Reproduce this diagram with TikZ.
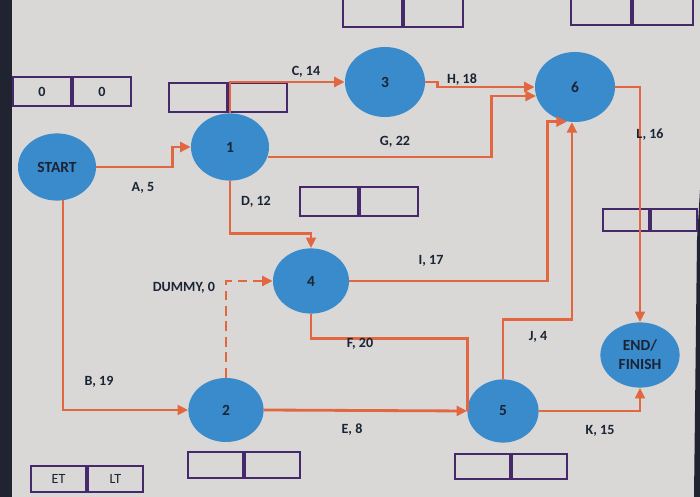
\documentclass[tikz,border=0pt]{standalone}
\usepackage{fontspec}
\setmainfont{Carlito}
\usepackage{tikz}
\usetikzlibrary{shapes.geometric,arrows.meta}
\definecolor{paper}{HTML}{DAD8D6}
\definecolor{eventblue}{HTML}{3A8BCB}
\definecolor{activity}{HTML}{E2663F}
\definecolor{boxline}{HTML}{45296A}
\definecolor{ink}{HTML}{1A2434}
\definecolor{desk}{HTML}{1F2430}
% two-cell time box: name, x, y of the divider, cell width, cell height, left, right
\newcommand{\timebox}[7]{%
	\node[cell,minimum width=#4*0.025cm,minimum height=#5*0.025cm,anchor=east] (#1L) at (#2,#3) {#6};
	\node[cell,minimum width=#4*0.025cm,minimum height=#5*0.025cm,anchor=west] (#1R) at (#2,#3) {#7};}

\begin{document}
\begin{tikzpicture}[x=0.025cm,y=-0.025cm,
	event/.style={ellipse,fill=eventblue,minimum width=1.95cm,minimum height=1.68cm,inner sep=0pt,
		font=\bfseries\fontsize{11}{13.5}\selectfont,text=ink,align=center},
	act/.style={draw=activity,line width=2pt,-{Triangle[length=7.5pt,width=7pt]}},
	cell/.style={draw=boxline,line width=1.4pt,inner sep=0pt,font=\bfseries\fontsize{10}{12}\selectfont,text=ink},
	lbl/.style={font=\bfseries\fontsize{10}{12}\selectfont,text=ink}]
	\useasboundingbox (0,0) rectangle (700,497);
	\fill[paper] (0,0) rectangle (700,497);
	\fill[desk] (0,0) rectangle (12,497);
	\fill[desk] (700,190) -- (697,240) -- (694,497) -- (700,497) -- cycle;
	% time boxes
	\timebox{bz}{72}{91.5}{58}{29}{0}{0}
	\timebox{ba}{228}{97.5}{58}{29}{}{}
	\timebox{bc}{403}{11}{59}{32}{}{}
	\timebox{bf}{632}{10}{60}{30}{}{}
	\timebox{bd}{359}{201.5}{58}{29}{}{}
	\timebox{be}{650}{220}{46}{22}{}{}
	\timebox{bb}{244}{465}{55}{26}{}{}
	\timebox{bg}{511}{466.5}{55}{25}{}{}
	\timebox{bk}{87}{479}{55}{26}{\mdseries ET}{\mdseries LT}
	% events
	\node[event] (start) at (57,167) {START};
	\node[event] (n1) at (230,147) {1};
	\node[event,minimum width=2cm,minimum height=1.75cm] (n3) at (385,82) {3};
	\node[event,minimum width=2cm,minimum height=1.75cm] (n6) at (575,87) {6};
	\node[event,minimum width=1.9cm,minimum height=1.63cm] (n4) at (311,281) {4};
	\node[event,minimum width=1.88cm,minimum height=1.6cm] (n2) at (226,410) {2};
	\node[event,minimum width=1.78cm,minimum height=1.58cm] (n5) at (503,411) {5};
	\node[event,minimum width=1.98cm,minimum height=1.63cm] (fin) at (640,355) {END/\\FINISH};
	% activities
	\draw[act] (start.east) -- ++(76,0) |- (n1.west);
	\draw[act] (start.-80) |- (n2.west);
	\draw[act] (n1.north) |- (n3.west);
	\draw[act] (n1.south) -- ++(0,53) -| (n4.north);
	\draw[act] (n1.-15) -- ++(224,0) |- (n6.193);
	\draw[act] (n3.east) -- ++(12,0) |- (n6.west);
	\draw[act,dashed,dash pattern=on 7pt off 4pt] (n2.north) |- (n4.west);
	\draw[act] (n2.east) -- (n5.west);
	\draw[act,-] (n4.south) -- ++(0,25) -| (n5.west);
	\draw[act] (n4.east) -- ++(198,0) |- (n6.257);
	\draw[act] (n5.north) -- ++(0,-60) -| (n6.265);
	\draw[act] (n5.east) -| (fin.south);
	\draw[act] (n6.east) -| (fin.north);
	% activity labels
	\node[lbl] (la) at (143,188) {A, 5};
	\node[lbl] (lb) at (99,382) {B, 19};
	\node[lbl] (lc) at (306,72) {C, 14};
	\node[lbl] (ld) at (256,202) {D, 12};
	\node[lbl] (le) at (352,430) {E, 8};
	\node[lbl] (lf) at (360,344) {F, 20};
	\node[lbl] (lg) at (395,142) {G, 22};
	\node[lbl] (lh) at (462,80) {H, 18};
	\node[lbl] (li) at (431,261) {I, 17};
	\node[lbl] (lj) at (538,337) {J, 4};
	\node[lbl] (lk) at (600,431) {K, 15};
	\node[lbl] (ll) at (650,135) {L, 16};
	\node[lbl] (ldummy) at (184,288) {DUMMY, 0};
\end{tikzpicture}
\end{document}
